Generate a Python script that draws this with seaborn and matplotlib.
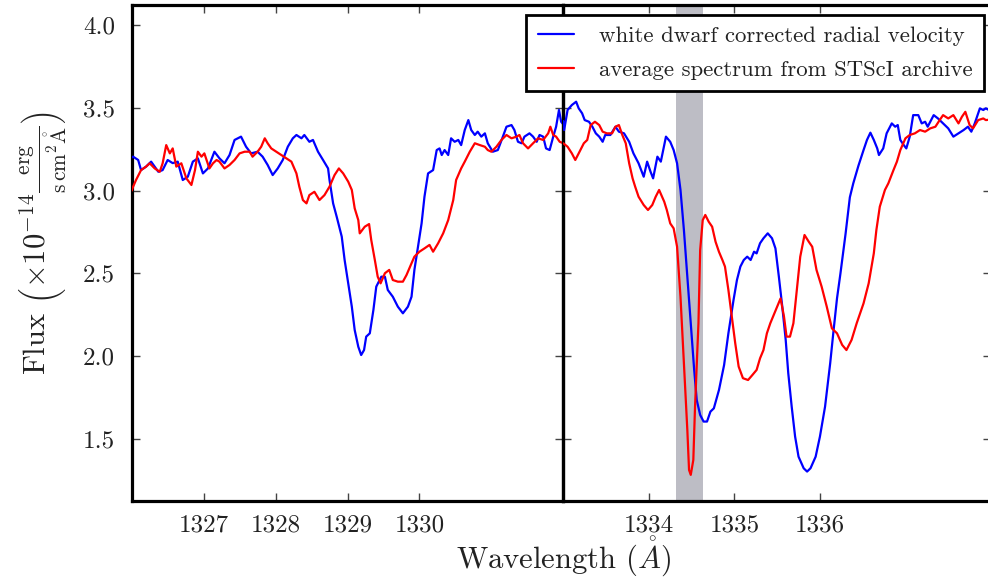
import numpy as np
import pandas as pd
import matplotlib
matplotlib.use("Agg")
import matplotlib.pyplot as plt
import seaborn as sns

# ---------------- data ----------------
# left panel, blue: white dwarf corrected radial velocity
wl_blue_left = [1326.00, 1326.02, 1326.09, 1326.13, 1326.20, 1326.27, 1326.37, 1326.43, 1326.50, 1326.57,
                1326.64, 1326.71, 1326.78, 1326.85, 1326.92, 1326.99, 1327.06, 1327.15, 1327.22, 1327.29,
                1327.36, 1327.43, 1327.52, 1327.59, 1327.66, 1327.75, 1327.82, 1327.89, 1327.96, 1328.03,
                1328.10, 1328.17, 1328.24, 1328.29, 1328.36, 1328.40, 1328.47, 1328.52, 1328.59, 1328.66,
                1328.73, 1328.75, 1328.80, 1328.85, 1328.92, 1328.96, 1329.01, 1329.06, 1329.10, 1329.15,
                1329.19, 1329.23, 1329.26, 1329.31, 1329.36, 1329.40, 1329.47, 1329.52, 1329.56, 1329.63,
                1329.70, 1329.77, 1329.84, 1329.89, 1329.93, 1329.98, 1330.03, 1330.07, 1330.12, 1330.19,
                1330.24, 1330.28, 1330.31, 1330.35, 1330.40, 1330.44, 1330.49, 1330.54, 1330.58, 1330.63,
                1330.68, 1330.72, 1330.77, 1330.81, 1330.86, 1330.91, 1330.95, 1331.02, 1331.09, 1331.16,
                1331.21, 1331.28, 1331.32, 1331.37, 1331.42, 1331.46, 1331.53, 1331.58, 1331.63, 1331.67,
                1331.72, 1331.76, 1331.81, 1331.86, 1331.90, 1331.94, 1331.97, 1332.00]
flux_blue_left = [3.20, 3.205, 3.185, 3.124, 3.145, 3.175, 3.114, 3.124, 3.185, 3.166,
                  3.175, 3.064, 3.084, 3.175, 3.195, 3.104, 3.134, 3.235, 3.195, 3.165,
                  3.215, 3.306, 3.326, 3.265, 3.225, 3.235, 3.205, 3.155, 3.094, 3.134,
                  3.185, 3.265, 3.316, 3.336, 3.316, 3.336, 3.295, 3.306, 3.235, 3.185,
                  3.134, 3.064, 2.923, 2.842, 2.722, 2.581, 2.440, 2.299, 2.158, 2.057,
                  2.007, 2.037, 2.118, 2.138, 2.279, 2.420, 2.480, 2.480, 2.400, 2.359,
                  2.299, 2.259, 2.299, 2.359, 2.521, 2.661, 2.802, 2.963, 3.104, 3.124,
                  3.245, 3.255, 3.215, 3.245, 3.215, 3.316, 3.295, 3.306, 3.275, 3.366,
                  3.426, 3.366, 3.336, 3.356, 3.326, 3.346, 3.286, 3.235, 3.245, 3.326,
                  3.386, 3.396, 3.366, 3.295, 3.286, 3.326, 3.346, 3.326, 3.295, 3.336,
                  3.326, 3.255, 3.245, 3.326, 3.386, 3.487, 3.416, 3.40]

# right panel, blue
wl_blue_right = [1333.00, 1333.01, 1333.05, 1333.10, 1333.15, 1333.18, 1333.22, 1333.25, 1333.30, 1333.34,
                 1333.38, 1333.42, 1333.46, 1333.49, 1333.55, 1333.61, 1333.65, 1333.71, 1333.77, 1333.82,
                 1333.88, 1333.94, 1333.98, 1334.02, 1334.05, 1334.10, 1334.14, 1334.18, 1334.20, 1334.25,
                 1334.29, 1334.33, 1334.37, 1334.41, 1334.45, 1334.49, 1334.53, 1334.56, 1334.60, 1334.64,
                 1334.68, 1334.72, 1334.76, 1334.82, 1334.88, 1334.93, 1334.99, 1335.03, 1335.07, 1335.11,
                 1335.15, 1335.19, 1335.23, 1335.26, 1335.30, 1335.34, 1335.39, 1335.44, 1335.48, 1335.52,
                 1335.56, 1335.60, 1335.63, 1335.67, 1335.71, 1335.75, 1335.81, 1335.85, 1335.89, 1335.95,
                 1336.00, 1336.06, 1336.12, 1336.16, 1336.20, 1336.24, 1336.30, 1336.35, 1336.39, 1336.45,
                 1336.51, 1336.55, 1336.59, 1336.63, 1336.67, 1336.69, 1336.74, 1336.78, 1336.84, 1336.88,
                 1336.91, 1336.94, 1336.98, 1337.01, 1337.05, 1337.09, 1337.15, 1337.19, 1337.23, 1337.26,
                 1337.33, 1337.38, 1337.44, 1337.50, 1337.56, 1337.62, 1337.68, 1337.73, 1337.77, 1337.81,
                 1337.87, 1337.91, 1337.94, 1338.00]
flux_blue_right = [3.42, 3.366, 3.487, 3.517, 3.537, 3.497, 3.467, 3.426, 3.416, 3.386,
                   3.346, 3.326, 3.295, 3.336, 3.336, 3.386, 3.356, 3.346, 3.295, 3.225,
                   3.165, 3.084, 3.175, 3.114, 3.074, 3.205, 3.175, 3.275, 3.326, 3.295,
                   3.245, 3.165, 3.004, 2.762, 2.480, 2.199, 1.917, 1.735, 1.645, 1.605,
                   1.605, 1.665, 1.685, 1.796, 1.947, 2.138, 2.339, 2.460, 2.541, 2.581,
                   2.601, 2.581, 2.631, 2.621, 2.682, 2.712, 2.742, 2.712, 2.651, 2.480,
                   2.299, 2.098, 1.897, 1.695, 1.514, 1.393, 1.323, 1.303, 1.323, 1.393,
                   1.514, 1.695, 1.957, 2.158, 2.350, 2.500, 2.740, 2.960, 3.044, 3.150,
                   3.245, 3.306, 3.350, 3.306, 3.255, 3.215, 3.255, 3.346, 3.406, 3.386,
                   3.396, 3.306, 3.275, 3.255, 3.326, 3.456, 3.456, 3.406, 3.416, 3.386,
                   3.456, 3.436, 3.406, 3.376, 3.326, 3.346, 3.366, 3.386, 3.356, 3.406,
                   3.497, 3.487, 3.497, 3.48]

# left panel, red: average spectrum from STScI archive
wl_red_left = [1326.00, 1326.02, 1326.06, 1326.13, 1326.20, 1326.25, 1326.32, 1326.39, 1326.43, 1326.48,
               1326.53, 1326.57, 1326.62, 1326.69, 1326.76, 1326.83, 1326.88, 1326.92, 1326.97, 1327.01,
               1327.08, 1327.13, 1327.18, 1327.22, 1327.29, 1327.36, 1327.43, 1327.50, 1327.57, 1327.64,
               1327.68, 1327.75, 1327.80, 1327.85, 1327.89, 1327.94, 1328.01, 1328.08, 1328.15, 1328.22,
               1328.29, 1328.33, 1328.38, 1328.43, 1328.47, 1328.54, 1328.61, 1328.68, 1328.75, 1328.82,
               1328.88, 1328.94, 1329.01, 1329.06, 1329.10, 1329.15, 1329.17, 1329.24, 1329.30, 1329.33,
               1329.38, 1329.42, 1329.46, 1329.52, 1329.58, 1329.63, 1329.70, 1329.77, 1329.82, 1329.89,
               1329.93, 1330.00, 1330.07, 1330.14, 1330.19, 1330.26, 1330.33, 1330.40, 1330.47, 1330.51,
               1330.58, 1330.63, 1330.70, 1330.77, 1330.84, 1330.91, 1330.95, 1331.00, 1331.07, 1331.14,
               1331.21, 1331.28, 1331.35, 1331.39, 1331.44, 1331.51, 1331.58, 1331.65, 1331.72, 1331.79,
               1331.82, 1331.86, 1331.90, 1331.95, 1332.00]
flux_red_left = [3.00, 3.024, 3.064, 3.124, 3.145, 3.165, 3.134, 3.114, 3.165, 3.275,
                 3.225, 3.255, 3.145, 3.165, 3.074, 3.034, 3.124, 3.235, 3.205, 3.225,
                 3.134, 3.165, 3.185, 3.175, 3.134, 3.155, 3.185, 3.225, 3.235, 3.235,
                 3.205, 3.235, 3.265, 3.316, 3.286, 3.255, 3.235, 3.215, 3.195, 3.175,
                 3.104, 3.024, 2.943, 2.923, 2.973, 2.993, 2.943, 2.973, 3.024, 3.094,
                 3.134, 3.104, 3.054, 3.004, 2.893, 2.822, 2.742, 2.782, 2.798, 2.702,
                 2.581, 2.480, 2.440, 2.501, 2.521, 2.460, 2.450, 2.450, 2.490, 2.561,
                 2.601, 2.631, 2.651, 2.672, 2.631, 2.682, 2.742, 2.822, 2.943, 3.064,
                 3.134, 3.175, 3.235, 3.286, 3.275, 3.265, 3.245, 3.235, 3.265, 3.306,
                 3.336, 3.316, 3.326, 3.336, 3.286, 3.255, 3.286, 3.316, 3.306, 3.346,
                 3.386, 3.336, 3.326, 3.295, 3.286]

# right panel, red
wl_red_right = [1333.00, 1333.05, 1333.10, 1333.14, 1333.18, 1333.24, 1333.28, 1333.32, 1333.37, 1333.42,
                1333.46, 1333.51, 1333.57, 1333.61, 1333.65, 1333.69, 1333.73, 1333.77, 1333.81, 1333.84,
                1333.88, 1333.94, 1333.99, 1334.04, 1334.08, 1334.12, 1334.18, 1334.21, 1334.25, 1334.29,
                1334.33, 1334.37, 1334.41, 1334.45, 1334.47, 1334.49, 1334.52, 1334.54, 1334.58, 1334.60,
                1334.63, 1334.66, 1334.70, 1334.74, 1334.78, 1334.82, 1334.86, 1334.89, 1334.93, 1334.97,
                1335.01, 1335.05, 1335.10, 1335.16, 1335.21, 1335.26, 1335.30, 1335.34, 1335.38, 1335.42,
                1335.46, 1335.50, 1335.54, 1335.58, 1335.61, 1335.65, 1335.69, 1335.73, 1335.77, 1335.82,
                1335.87, 1335.91, 1335.96, 1336.02, 1336.08, 1336.14, 1336.20, 1336.26, 1336.31, 1336.37,
                1336.43, 1336.51, 1336.57, 1336.63, 1336.66, 1336.70, 1336.76, 1336.80, 1336.86, 1336.90,
                1336.94, 1337.00, 1337.05, 1337.11, 1337.17, 1337.23, 1337.29, 1337.35, 1337.40, 1337.44,
                1337.50, 1337.56, 1337.62, 1337.66, 1337.70, 1337.75, 1337.79, 1337.85, 1337.91, 1337.94,
                1338.00]
flux_red_right = [3.286, 3.265, 3.225, 3.185, 3.225, 3.286, 3.306, 3.396, 3.416, 3.396,
                  3.356, 3.346, 3.346, 3.386, 3.396, 3.336, 3.286, 3.165, 3.074, 3.024,
                  2.963, 2.913, 2.883, 2.913, 2.963, 3.004, 2.933, 2.883, 2.802, 2.772,
                  2.661, 2.359, 1.957, 1.554, 1.313, 1.283, 1.373, 1.695, 2.199, 2.641,
                  2.822, 2.853, 2.812, 2.782, 2.691, 2.630, 2.581, 2.541, 2.400, 2.239,
                  2.078, 1.937, 1.867, 1.856, 1.886, 1.917, 1.987, 2.037, 2.138, 2.199,
                  2.249, 2.299, 2.349, 2.239, 2.118, 2.118, 2.199, 2.400, 2.601, 2.732,
                  2.691, 2.661, 2.521, 2.420, 2.299, 2.168, 2.138, 2.068, 2.037, 2.098,
                  2.199, 2.319, 2.440, 2.621, 2.762, 2.903, 3.004, 3.044, 3.124, 3.175,
                  3.245, 3.316, 3.336, 3.346, 3.366, 3.356, 3.376, 3.386, 3.426, 3.456,
                  3.436, 3.456, 3.406, 3.446, 3.476, 3.396, 3.376, 3.426, 3.436, 3.426,
                  3.43]

label_blue = "white dwarf corrected radial velocity"
label_red = "average spectrum from STScI archive"
xticks_left = [1327, 1328, 1329, 1330]
xticks_right = [1334, 1335, 1336]
yticks = [1.5, 2.0, 2.5, 3.0, 3.5, 4.0]
band = (1334.32, 1334.63)

# ---------------- style ----------------
sns.set_style("white")
plt.rcParams.update({
    "font.family": "serif",
    "font.serif": ["cmr10"],
    "mathtext.fontset": "cm",
    "axes.unicode_minus": False,
    "axes.formatter.use_mathtext": True,
})

W, H = 988, 579
fig = plt.figure(figsize=(W / 100, H / 100), dpi=100)
ax1 = fig.add_axes([131.7 / W, 78.3 / H, 431.6 / W, 496 / H])
ax2 = fig.add_axes([563.3 / W, 78.3 / H, 427.7 / W, 496 / H])
ax2.set_facecolor("none")

df_bl = pd.DataFrame({"wl": wl_blue_left, "flux": flux_blue_left})
df_br = pd.DataFrame({"wl": wl_blue_right, "flux": flux_blue_right})
df_rl = pd.DataFrame({"wl": wl_red_left, "flux": flux_red_left})
df_rr = pd.DataFrame({"wl": wl_red_right, "flux": flux_red_right})

ax2.axvspan(band[0], band[1], color="#bdbdc5", lw=0, zorder=1)

kw = dict(estimator=None, sort=False, legend=False, linewidth=1.6, zorder=3)
sns.lineplot(data=df_bl, x="wl", y="flux", ax=ax1, color="#0000ff", **kw)
sns.lineplot(data=df_rl, x="wl", y="flux", ax=ax1, color="#ff0000", **kw)
sns.lineplot(data=df_br, x="wl", y="flux", ax=ax2, color="#0000ff", label=label_blue, **kw)
sns.lineplot(data=df_rr, x="wl", y="flux", ax=ax2, color="#ff0000", label=label_red, **kw)

ylim = (1.127, 4.123)
for ax, xl, xt in ((ax1, (1326, 1332), xticks_left), (ax2, (1333, 1338), xticks_right)):
    ax.set_xlim(*xl)
    ax.set_ylim(*ylim)
    ax.set_xticks(xt)
    ax.set_xticklabels([str(t) for t in xt])
    ax.set_yticks(yticks)
    ax.set_yticklabels([f"{t:.1f}" for t in yticks])
    ax.set_xlabel("")
    ax.set_ylabel("")
    ax.tick_params(direction="in", length=6, width=1, color="#444444",
                   top=True, right=True, bottom=True, left=True,
                   labelsize=18, labelcolor="#222222")
    ax.tick_params(axis="y", pad=12)
    ax.tick_params(axis="x", pad=10)
    for s in ax.spines.values():
        s.set_linewidth(2.3)
        s.set_color("black")
        s.set_visible(True)

ax2.tick_params(labelleft=False)

ax1.set_ylabel(r"Flux $\left(\times10^{-14}\frac{\mathrm{erg}}{\mathrm{s\,cm^2}\mathring{\mathrm{A}}}\right)$",
               fontsize=22, color="#222222")
ax1.yaxis.set_label_coords(-0.148, 0.52)

fig.text(563.3 / W, 1 - 568 / H, r"Wavelength $(\mathring{A})$", fontsize=22,
         ha="center", va="baseline", color="#222222")

leg = ax2.legend(loc="upper right", bbox_to_anchor=(984.3 / W, 1 - 15 / H),
                 bbox_transform=fig.transFigure, borderaxespad=0, fontsize=16.4,
                 frameon=True, fancybox=False, framealpha=1, edgecolor="black",
                 handlelength=1.6, handletextpad=1.1, borderpad=0.5, labelspacing=0.6)
leg.get_frame().set_linewidth(2)
leg.set_zorder(10)
for t in leg.get_texts():
    t.set_color("#222222")

fig.savefig("out.png", dpi=100)
